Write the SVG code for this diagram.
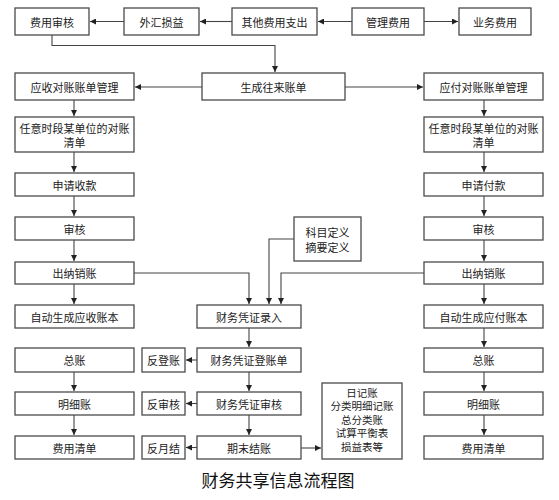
<svg xmlns="http://www.w3.org/2000/svg" width="559" height="500" viewBox="0 0 559 500">
<style>
.b{fill:#fff;stroke:#4a4a4a;stroke-width:1.3}
.t{font-family:"Noto Sans CJK SC","Liberation Sans",sans-serif;font-size:11px;fill:#222;text-anchor:middle;dominant-baseline:central}
.s{font-size:10.5px}
.c{fill:none;stroke:#444;stroke-width:1.1;marker-end:url(#a)}
</style>
<defs>
<marker id="a" markerUnits="userSpaceOnUse" markerWidth="7" markerHeight="6" refX="6" refY="3" orient="auto">
<path d="M0,0 L6,3 L0,6 z" fill="#222"/>
</marker>
</defs>
<rect width="559" height="500" fill="#fff"/>
<g id="connectors">
<path class="c" d="M124,21.5 H90"/>
<path class="c" d="M232,21.5 H200"/>
<path class="c" d="M352,21.5 H318"/>
<path class="c" d="M424,21.5 H458"/>
<path class="c" d="M52,35 V45.5 H275 V72"/>
<path class="c" d="M202,87 H135"/>
<path class="c" d="M345,87 H423"/>
<path class="c" d="M74,100 V116"/>
<path class="c" d="M74,152 V172"/>
<path class="c" d="M74,196 V216"/>
<path class="c" d="M74,240 V261"/>
<path class="c" d="M74,284 V304"/>
<path class="c" d="M484,100 V116"/>
<path class="c" d="M484,152 V172"/>
<path class="c" d="M484,196 V216"/>
<path class="c" d="M484,240 V261"/>
<path class="c" d="M484,284 V304"/>
<path class="c" d="M484,328 V347"/>
<path class="c" d="M484,372 V391"/>
<path class="c" d="M484,415 V435"/>
<path class="c" d="M74,372 V391"/>
<path class="c" d="M74,415 V435"/>
<path class="c" d="M134,273 H249 V304"/>
<path class="c" d="M294,239 H269 V304"/>
<path class="c" d="M424,273 H281 V304"/>
<path class="c" d="M249,328 V347"/>
<path class="c" d="M249,372 V391"/>
<path class="c" d="M249,415 V435"/>
<path class="c" d="M197,360 H186"/>
<path class="c" d="M197,403.5 H186"/>
<path class="c" d="M197,447.5 H186"/>
<path class="c" d="M301,448 H321"/>
</g>
<g id="n1"><rect class="b" x="15" y="8" width="74" height="27"/><text class="t" x="52" y="21.5">费用审核</text></g>
<g id="n2"><rect class="b" x="124" y="8" width="75" height="27"/><text class="t" x="161.5" y="21.5">外汇损益</text></g>
<g id="n3"><rect class="b" x="232" y="8" width="85" height="27"/><text class="t" x="274.5" y="21.5">其他费用支出</text></g>
<g id="n4"><rect class="b" x="352" y="8" width="72" height="27"/><text class="t" x="388" y="21.5">管理费用</text></g>
<g id="n5"><rect class="b" x="459" y="8" width="72" height="27"/><text class="t" x="495" y="21.5">业务费用</text></g>
<g id="n6"><rect class="b" x="15" y="73" width="119" height="27"/><text class="t" x="74.5" y="86.5">应收对账账单管理</text></g>
<g id="n7"><rect class="b" x="202" y="73" width="143" height="27"/><text class="t" x="273.5" y="86.5">生成往来账单</text></g>
<g id="n8"><rect class="b" x="424" y="73" width="119" height="27"/><text class="t" x="483.5" y="86.5">应付对账账单管理</text></g>
<g id="n9"><rect class="b" x="15" y="117" width="119" height="35"/><text class="t" x="74.5" y="127.5">任意时段某单位的对账</text><text class="t" x="74.5" y="142">清单</text></g>
<g id="n10"><rect class="b" x="424" y="117" width="119" height="35"/><text class="t" x="483.5" y="127.5">任意时段某单位的对账</text><text class="t" x="483.5" y="142">清单</text></g>
<g id="n11"><rect class="b" x="15" y="173" width="119" height="23"/><text class="t" x="74.5" y="184.5">申请收款</text></g>
<g id="n12"><rect class="b" x="424" y="173" width="119" height="23"/><text class="t" x="483.5" y="184.5">申请付款</text></g>
<g id="n13"><rect class="b" x="15" y="217" width="119" height="23"/><text class="t" x="74.5" y="228.5">审核</text></g>
<g id="n14"><rect class="b" x="424" y="217" width="119" height="23"/><text class="t" x="483.5" y="228.5">审核</text></g>
<g id="n15"><rect class="b" x="15" y="262" width="119" height="22"/><text class="t" x="74.5" y="273">出纳销账</text></g>
<g id="n16"><rect class="b" x="424" y="262" width="119" height="22"/><text class="t" x="483.5" y="273">出纳销账</text></g>
<g id="n17"><rect class="b" x="294" y="217" width="67" height="44"/><text class="t" x="327.5" y="231.5">科目定义</text><text class="t" x="327.5" y="246.5">摘要定义</text></g>
<g id="n18"><rect class="b" x="15" y="305" width="119" height="23"/><text class="t" x="74.5" y="316.5">自动生成应收账本</text></g>
<g id="n19"><rect class="b" x="197" y="305" width="104" height="23"/><text class="t" x="249" y="316.5">财务凭证录入</text></g>
<g id="n20"><rect class="b" x="424" y="305" width="119" height="23"/><text class="t" x="483.5" y="316.5">自动生成应付账本</text></g>
<g id="n21"><rect class="b" x="15" y="348" width="119" height="24"/><text class="t" x="74.5" y="360">总账</text></g>
<g id="n22"><rect class="b" x="142" y="348" width="43" height="24"/><text class="t" x="163.5" y="360">反登账</text></g>
<g id="n23"><rect class="b" x="197" y="348" width="104" height="24"/><text class="t" x="249" y="360">财务凭证登账单</text></g>
<g id="n24"><rect class="b" x="424" y="348" width="119" height="24"/><text class="t" x="483.5" y="360">总账</text></g>
<g id="n25"><rect class="b" x="15" y="392" width="119" height="23"/><text class="t" x="74.5" y="403.5">明细账</text></g>
<g id="n26"><rect class="b" x="142" y="392" width="43" height="23"/><text class="t" x="163.5" y="403.5">反审核</text></g>
<g id="n27"><rect class="b" x="197" y="392" width="104" height="23"/><text class="t" x="249" y="403.5">财务凭证审核</text></g>
<g id="n28"><rect class="b" x="424" y="392" width="119" height="23"/><text class="t" x="483.5" y="403.5">明细账</text></g>
<g id="n29"><rect class="b" x="15" y="436" width="119" height="23"/><text class="t" x="74.5" y="447.5">费用清单</text></g>
<g id="n30"><rect class="b" x="142" y="436" width="43" height="23"/><text class="t" x="163.5" y="447.5">反月结</text></g>
<g id="n31"><rect class="b" x="197" y="436" width="104" height="23"/><text class="t" x="249" y="447.5">期末结账</text></g>
<g id="n32"><rect class="b" x="424" y="436" width="119" height="23"/><text class="t" x="483.5" y="447.5">费用清单</text></g>
<g id="n33"><rect class="b" x="322" y="383" width="80" height="76"/>
<text class="t s" x="362" y="392">日记账</text><text class="t s" x="362" y="405.5">分类明细记账</text><text class="t s" x="362" y="419">总分类账</text><text class="t s" x="362" y="432.5">试算平衡表</text><text class="t s" x="362" y="446">损益表等</text></g>
<text x="278" y="479" style="font-family:'Noto Sans CJK SC','Liberation Sans',sans-serif;font-size:17px;fill:#111;text-anchor:middle;dominant-baseline:central">财务共享信息流程图</text>
</svg>
